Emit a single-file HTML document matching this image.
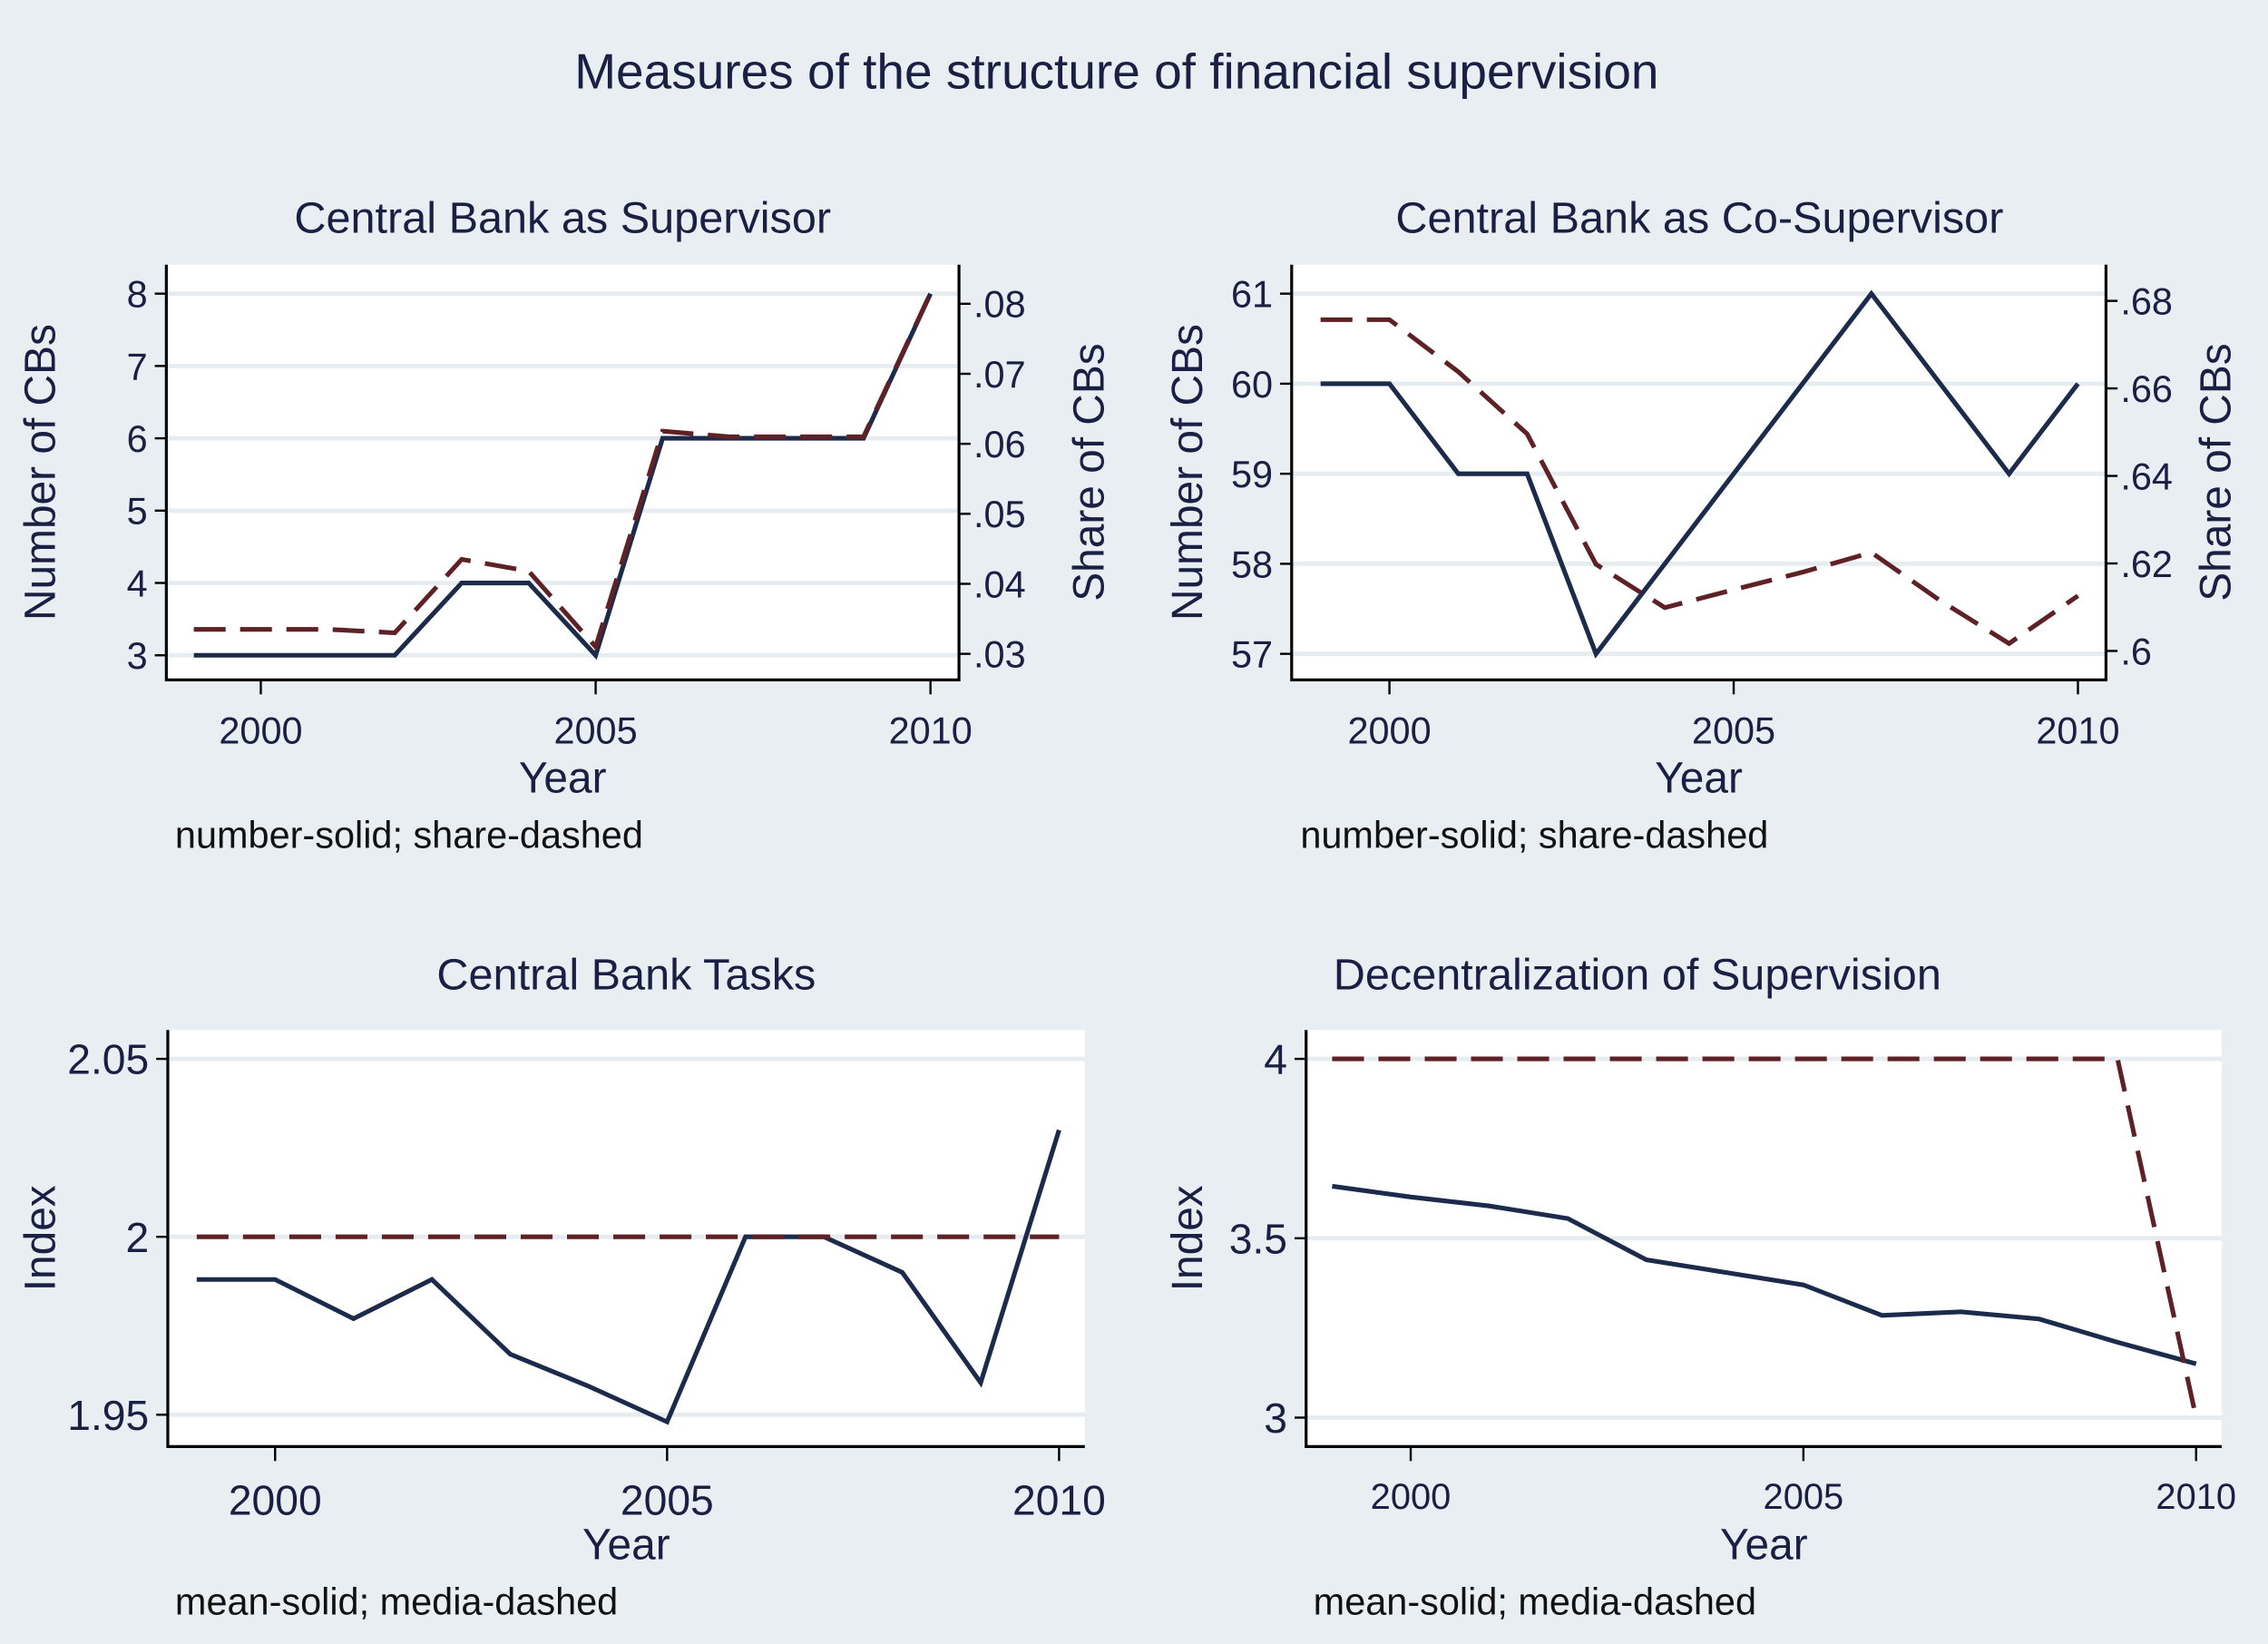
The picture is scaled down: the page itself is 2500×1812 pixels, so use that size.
<!DOCTYPE html>
<html><head><meta charset="utf-8"><style>
html,body{margin:0;padding:0;background:#e8eef1;}
svg{display:block;font-family:"Liberation Sans",sans-serif;}
</style></head><body>
<svg id="chart" width="2500" height="1812" viewBox="0 0 1568 1136.5" xmlns="http://www.w3.org/2000/svg">
<rect x="0" y="0" width="1568" height="1137" fill="#e8eef1"/>
<text x="772" y="61" font-size="34.5" fill="#1a1f44" text-anchor="middle">Measures of the structure of financial supervision</text>
</svg>
<script>
const years = [1999,2000,2001,2002,2003,2004,2005,2006,2007,2008,2009,2010];
const p1Number = [3,3,3,3,4,4,3,6,6,6,6,8];
const p1Share = [0.0335,0.0335,0.0335,0.033,0.0435,0.0418,0.031,0.0618,0.061,0.061,0.061,0.0815];
const p2Number = [60,60,59,59,57,58,59,60,61,60,59,60];
const p2Share = [0.6757,0.6757,0.6638,0.6496,0.6198,0.6099,0.614,0.618,0.6225,0.6115,0.6017,0.6126];
const p3Mean = [1.988,1.988,1.977,1.988,1.967,1.958,1.948,2.0,2.0,1.990,1.959,2.030];
const p3Median = [2,2,2,2,2,2,2,2,2,2,2,2];
const p4Mean = [3.645,3.615,3.59,3.555,3.44,3.405,3.37,3.285,3.295,3.275,3.21,3.15];
const p4Median = [4,4,4,4,4,4,4,4,4,4,4,3];
const xTicks = [2000,2005,2010];
const p1LeftTicks = [3,4,5,6,7,8];
const p1RightTicks = [0.03,0.04,0.05,0.06,0.07,0.08];
const p1RightLabels = [".03",".04",".05",".06",".07",".08"];
const p2LeftTicks = [57,58,59,60,61];
const p2RightTicks = [0.6,0.62,0.64,0.66,0.68];
const p2RightLabels = [".6",".62",".64",".66",".68"];
const p3Ticks = [1.95,2,2.05];
const p3Labels = ["1.95","2","2.05"];
const p4Ticks = [3,3.5,4];
const p4Labels = ["3","3.5","4"];

const NS="http://www.w3.org/2000/svg";
const svg=document.getElementById('chart');
function mk(tag,attrs,parent){const e=document.createElementNS(NS,tag);for(const k in attrs)e.setAttribute(k,attrs[k]);(parent||svg).appendChild(e);return e;}
function txt(s,attrs,parent){const e=mk('text',attrs,parent);e.textContent=s;return e;}
const TC="#1a1f44";

function panel(cfg){
  const g=mk('g',{});
  
  
  const {x0,x1,y0,y1}=cfg;
  const bg=mk('rect',{x:x0,y:y0,width:x1-x0,height:y1-y0,fill:"#ffffff"},g);
  
  
  const X=v=>cfg.xa+(v-1999)*cfg.xs;
  const YL=v=>cfg.yl0+(v-cfg.lv0)*cfg.lsc;
  const YR=cfg.rTicks?(v=>cfg.yr0+(v-cfg.rv0)*cfg.rsc):null;
  cfg.lTicks.forEach((t,i)=>{
    const l=mk('line',{x1:x0,x2:x1,y1:YL(t),y2:YL(t),stroke:"#e6ecef","stroke-width":3},g);
    
    
  });
  const ax=mk('path',{d:`M${x0},${y0} V${y1} H${x1}`+(cfg.rTicks?` V${y0}`:''),fill:"none",stroke:"#000","stroke-width":2},g);
  
  
  cfg.lTicks.forEach((t,i)=>{
    mk('line',{x1:x0-8,x2:x0,y1:YL(t),y2:YL(t),stroke:"#000","stroke-width":1.5},g);
    const lb=txt(cfg.lLabels?cfg.lLabels[i]:String(t),{x:x0-13,y:YL(t)+cfg.yfs*0.36,"font-size":cfg.yfs,fill:TC,"text-anchor":"end"},g);
    
    
  });
  if(cfg.rTicks){
    cfg.rTicks.forEach((t,i)=>{
      mk('line',{x1:x1,x2:x1+8,y1:YR(t),y2:YR(t),stroke:"#000","stroke-width":1.5},g);
      const lb=txt(cfg.rLabels[i],{x:x1+10,y:YR(t)+cfg.yfs*0.36,"font-size":cfg.yfs,fill:TC},g);
      
      
    });
    const rt=txt("Share of CBs",{transform:`translate(${x1+cfg.rtOff},${(y0+y1)/2}) rotate(-90)`,"font-size":30,fill:TC,"text-anchor":"middle"},g);
    
    
  }
  xTicks.forEach(t=>{
    mk('line',{x1:X(t),x2:X(t),y1:y1,y2:y1+10,stroke:"#000","stroke-width":1.5},g);
    const lb=txt(String(t),{x:X(t),y:y1+cfg.xfs+18,"font-size":cfg.xfs,fill:TC,"text-anchor":"middle"},g);
    
    
  });
  const xt=txt("Year",{x:(x0+x1)/2,y:y1+78,"font-size":30,fill:TC,"text-anchor":"middle"},g);
  
  
  const yt=txt(cfg.yTitle,{transform:`translate(${cfg.yTitleX},${(y0+y1)/2}) rotate(-90)`,"font-size":30,fill:TC,"text-anchor":"middle"},g);
  
  
  const tt=txt(cfg.title,{x:cfg.titleX,y:y0-cfg.titleOff,"font-size":30.5,fill:TC,"text-anchor":"middle"},g);
  
  
  const nt=txt(cfg.note,{x:cfg.noteX,y:y1+116,"font-size":26,fill:"#111"},g);
  
  
  const solidY=cfg.solid.map(v=>YL(v));
  const dashF=cfg.rTicks?YR:YL;
  const dashY=cfg.dash.map(v=>dashF(v));
  const s=mk('polyline',{points:years.map((y,i)=>X(y)+","+solidY[i]).join(" "),fill:"none",stroke:"#1c2b4b","stroke-width":3.2},g);
  
  
  const d=mk('polyline',{points:years.map((y,i)=>X(y)+","+dashY[i]).join(" "),fill:"none",stroke:"#5e2126","stroke-width":3.2,"stroke-dasharray":"22 10"},g);
  
  
}

panel({name:"panel-cb-supervisor",x0:115,x1:663,y0:183,y1:470,xa:134,xs:46.3,
  yl0:453,lv0:3,lsc:-50,lTicks:p1LeftTicks,
  yr0:452,rv0:0.03,rsc:-4840,rTicks:p1RightTicks,rLabels:p1RightLabels,rtOff:100,
  xfs:26,yfs:26,yTitle:"Number of CBs",yTitleX:38,title:"Central Bank as Supervisor",titleX:389,titleOff:22,
  note:"number-solid; share-dashed",noteX:121,solid:p1Number,dash:p1Share});
panel({name:"panel-cb-cosupervisor",x0:893,x1:1456,y0:183,y1:470,xa:913,xs:47.6,
  yl0:452,lv0:57,lsc:-62.25,lTicks:p2LeftTicks,
  yr0:450,rv0:0.6,rsc:-3025,rTicks:p2RightTicks,rLabels:p2RightLabels,rtOff:86,
  xfs:26,yfs:26,yTitle:"Number of CBs",yTitleX:831,title:"Central Bank as Co-Supervisor",titleX:1175,titleOff:22,
  note:"number-solid; share-dashed",noteX:899,solid:p2Number,dash:p2Share});
panel({name:"panel-cb-tasks",x0:116,x1:750,y0:712,y1:1000,xa:136,xs:54.2,
  yl0:978,lv0:1.95,lsc:-2460,lTicks:p3Ticks,lLabels:p3Labels,
  xfs:29,yfs:29,yTitle:"Index",yTitleX:38,title:"Central Bank Tasks",titleX:433,titleOff:28,
  note:"mean-solid; media-dashed",noteX:121,solid:p3Mean,dash:p3Median});
panel({name:"panel-decentralization",x0:903,x1:1536,y0:712,y1:1000,xa:921,xs:54.3,
  yl0:980,lv0:3,lsc:-248,lTicks:p4Ticks,lLabels:p4Labels,
  xfs:25,yfs:29,yTitle:"Index",yTitleX:831,title:"Decentralization of Supervision",titleX:1132,titleOff:28,
  note:"mean-solid; media-dashed",noteX:908,solid:p4Mean,dash:p4Median});
</script>
</body></html>
